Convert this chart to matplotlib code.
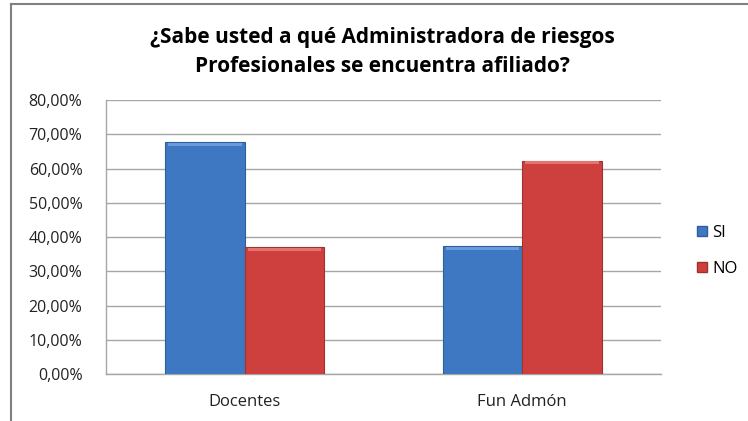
import numpy as np
import matplotlib.pyplot as plt
from matplotlib.lines import Line2D
from matplotlib.patches import Patch

# Data
categories = ['Docentes', 'Fun Admón']
si_vals = [67.7, 37.3]
no_vals = [37.1, 62.3]
series_names = ['SI', 'NO']
yticks = [0, 10, 20, 30, 40, 50, 60, 70, 80]

plt.rcParams['font.family'] = ['Open Sans', 'DejaVu Sans']

fig = plt.figure(figsize=(7.48, 4.21), dpi=100)
ax = fig.add_axes([106 / 748, 1 - 374.3 / 421, (661 - 106) / 748, (374.3 - 100) / 421])

x = np.arange(len(categories))
w = 0.2865
blue = '#3F78C2'
red = '#CE403D'
ax.bar(x - w / 2, si_vals, w, color=blue, edgecolor='#2F5E9C', linewidth=0.8, zorder=3)
ax.bar(x + w / 2, no_vals, w, color=red, edgecolor='#9E3230', linewidth=0.8, zorder=3)
# light bevel strip at the top of each bar
for xi, v in zip(x - w / 2, si_vals):
    ax.bar(xi, 0.9, w * 0.92, bottom=v - 1.1, color='#6B9BDB', linewidth=0, zorder=4)
for xi, v in zip(x + w / 2, no_vals):
    ax.bar(xi, 0.9, w * 0.92, bottom=v - 1.1, color='#E57370', linewidth=0, zorder=4)

ax.set_xlim(-0.5, 1.5)
ax.set_ylim(0, 80)
ax.set_yticks(yticks)
ax.set_yticklabels([f'{t:.2f}%'.replace('.', ',') for t in yticks])
ax.set_xticks(x)
ax.set_xticklabels(categories)
ax.tick_params(axis='both', length=0, colors='#222222')
ax.tick_params(axis='x', pad=14, labelsize=12)
ax.tick_params(axis='y', pad=17, labelsize=11.5)
ax.yaxis.grid(True, color='#A6A6A6', linewidth=1.0, zorder=0)
for s in ['top', 'right']:
    ax.spines[s].set_visible(False)
for s in ['left', 'bottom']:
    ax.spines[s].set_color('#A6A6A6')
    ax.spines[s].set_linewidth(1.0)

fig.text(382 / 748, 1 - 37 / 421, '¿Sabe usted a qué Administradora de riesgos',
         ha='center', va='center', fontsize=15, fontweight='bold')
fig.text(382 / 748, 1 - 67 / 421, 'Profesionales se encuentra afiliado?',
         ha='center', va='center', fontsize=15, fontweight='bold')

handles = [Patch(facecolor=blue, edgecolor='#2F5E9C'), Patch(facecolor=red, edgecolor='#9E3230')]
fig.legend(handles, series_names, loc='center left', bbox_to_anchor=(682 / 748, 1 - 251 / 421),
           frameon=False, fontsize=12, handlelength=0.6, handleheight=0.6,
           handletextpad=0.3, labelspacing=1.2)

# outer chart frame (top and left edges visible)
fig.add_artist(Line2D([11 / 748, 11 / 748], [0, 1 - 3.5 / 421], color='#808080', linewidth=1.5))
fig.add_artist(Line2D([11 / 748, 1], [1 - 3.5 / 421, 1 - 3.5 / 421], color='#808080', linewidth=1.5))

fig.savefig('out.png', dpi=100)
